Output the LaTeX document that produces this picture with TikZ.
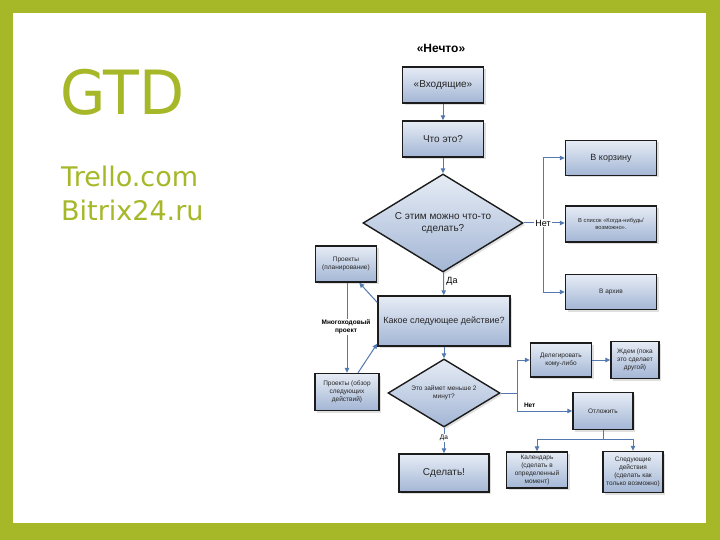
\documentclass[tikz,border=0pt]{standalone}
\usepackage{fontspec}
\setmainfont{Liberation Sans}
\newfontfamily\dejavu{DejaVu Sans}
\usetikzlibrary{shapes.geometric,arrows.meta,shadows,calc}
\definecolor{gtdgreen}{RGB}{166,184,40}
\definecolor{connblue}{RGB}{84,120,176}
\definecolor{boxtop}{RGB}{230,236,245}
\definecolor{boxbot}{RGB}{163,182,213}
\definecolor{edgecol}{RGB}{28,28,28}
\begin{document}
\begin{tikzpicture}[x=1pt,y=-1pt,
  box/.style={rectangle, draw=edgecol, line width=1.4pt, top color=boxtop, bottom color=boxbot,
    inner sep=1pt, align=center, text=black!85,
    drop shadow={shadow xshift=2pt,shadow yshift=-2pt,opacity=0.25}},
  dia/.style={diamond, draw=edgecol, line width=1.4pt, top color=boxtop, bottom color=boxbot,
    inner sep=0pt, align=center, text=black!85,
    drop shadow={shadow xshift=2pt,shadow yshift=-2pt,opacity=0.25}},
  arr/.style={draw=connblue, line width=1pt, -{Triangle[length=5pt,width=4.5pt]}},
  plainline/.style={draw=connblue, line width=1pt},
  big/.style={font=\fontsize{10}{12}\selectfont},
  med/.style={font=\fontsize{9}{11}\selectfont},
  sm/.style={font=\fontsize{6.5}{8}\selectfont},
  smb/.style={font=\bfseries\fontsize{6.5}{8}\selectfont},
  lefttext/.style={anchor=base west, inner sep=0pt, text=gtdgreen},
]
\fill[gtdgreen] (0,0) rectangle (720,540);
\fill[white] (13,13) rectangle (706,523);
\useasboundingbox (0,0) rectangle (720,540);

% left text
\node[lefttext, font=\dejavu\fontsize{61}{70}\selectfont] (gtd) at (60,115) {\scalebox{0.96}[1]{GTD}};
\node[lefttext, font=\dejavu\fontsize{27}{32}\selectfont] (trello) at (61,187) {Trello.com};
\node[lefttext, font=\dejavu\fontsize{27}{32}\selectfont] (bitrix) at (61,221) {Bitrix24.ru};

% flowchart nodes
\node[font=\bfseries\fontsize{12}{14}\selectfont] (title) at (441,48) {«Нечто»};
\node[box,big,minimum width=81pt,minimum height=36pt] (inbox) at (443,85) {«Входящие»};
\node[box,big,minimum width=81pt,minimum height=36pt] (what) at (443,139) {Что это?};
\node[dia,big,aspect=1.63,minimum width=160pt,minimum height=98pt] (d1) at (443,223) {С этим можно что-то\\сделать?};
\node[box,med,minimum width=132pt,minimum height=50pt] (next) at (444,321) {Какое следующее действие?};
\node[box,sm,minimum width=61pt,minimum height=36pt] (pplan) at (346,264) {Проекты\\(планирование)};
\node[box,sm,minimum width=64pt,minimum height=37pt] (prev) at (347,392) {Проекты (обзор\\следующих\\действий)};
\node[dia,sm,aspect=1.65,minimum width=112pt,minimum height=68pt] (d2) at (444,393) {Это займет меньше 2\\минут?};
\node[box,big,minimum width=90pt,minimum height=38pt] (do) at (444,473) {Сделать!};
\node[box,med,minimum width=91pt,minimum height=35pt] (trash) at (611,158) {В корзину};
\node[box,font=\fontsize{5.8}{7.5}\selectfont,minimum width=91pt,minimum height=36pt] (someday) at (611,224) {В список «Когда-нибудь/\\возможно».};
\node[box,sm,minimum width=91pt,minimum height=35pt] (archive) at (611,292) {В архив};
\node[box,sm,minimum width=61pt,minimum height=34pt] (deleg) at (561,360) {Делегировать\\кому-либо};
\node[box,sm,minimum width=48pt,minimum height=37pt] (wait) at (635,360) {Ждем (пока\\это сделает\\другой)};
\node[box,sm,minimum width=60pt,minimum height=37pt] (defer) at (603,411) {Отложить};
\node[box,sm,minimum width=61pt,minimum height=36pt] (cal) at (537,470) {Календарь\\(сделать в\\определенный\\момент)};
\node[box,sm,minimum width=60pt,minimum height=41pt] (nextact) at (633,472) {Следующие\\действия\\(сделать как\\только возможно)};

% main spine
\draw[arr] (inbox) -- (what);
\draw[arr] (what) -- (d1);
\draw[arr] (d1) -- node[right, med, pos=0.4, xshift=-1pt] (yes1) {Да} (next);

% right branch of d1
\coordinate (bx) at (543,224);
\draw[plainline] (trash.west -| bx) -- (archive.west -| bx);
\draw[arr] (trash.west -| bx) -- (trash.west);
\draw[arr] (archive.west -| bx) -- (archive.west);
\node[fill=white, inner sep=0.8pt, med] (no1) at (d1.east -| bx) {Нет};
\draw[plainline] (d1.east) -- (no1.west);
\draw[arr] (no1.east) -- (no1.east -| someday.west);

% projects loop
\draw[arr] (pplan.south -| prev.north) -- (prev.north);
\node[fill=white, inner sep=1pt, smb, align=center] (multi) at (346,327) {Многоходовый\\проект};
\draw[arr] ($(next.north west)!0.14!(next.south west)$) -- ([xshift=-18pt]pplan.south east);
\draw[arr] ([xshift=11pt]prev.north) -- ($(next.north west)!0.94!(next.south west)$);

% second decision
\draw[arr] (next) -- (d2);
\draw[arr] (d2) -- node[fill=white, inner sep=0.8pt, sm, pos=0.4] (yes2) {Да} (do);

\coordinate (bx2) at (517,392);
\draw[plainline] (d2.east) -- (d2.east -| bx2);
\draw[plainline] (deleg.west -| bx2) -- (defer.west -| bx2);
\draw[arr] (deleg.west -| bx2) -- (deleg.west);
\draw[arr] (defer.west -| bx2) -- node[above, smb, pos=0.23] (no2) {Нет} (defer.west);
\draw[arr] (deleg) -- (wait);

\coordinate (by) at (603,439);
\draw[plainline] (defer.south) -- (by);
\draw[plainline] (cal.north |- by) -- (nextact.north |- by);
\draw[arr] (cal.north |- by) -- (cal.north);
\draw[arr] (nextact.north |- by) -- (nextact.north);
\end{tikzpicture}
\end{document}
